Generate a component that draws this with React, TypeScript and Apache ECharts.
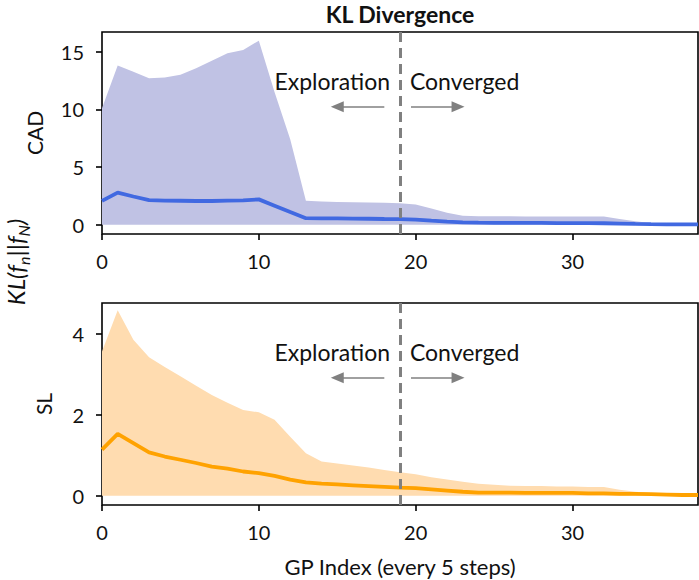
import React, { useEffect, useRef } from "react";
import * as echarts from "echarts";

const steps = Array.from({ length: 39 }, (_, i) => i);

const cadMean = [2.07, 2.79, 2.45, 2.13, 2.1, 2.08, 2.06, 2.06, 2.1, 2.12, 2.2, 1.65, 1.1, 0.57, 0.56, 0.55, 0.54, 0.52, 0.5, 0.49, 0.45, 0.35, 0.27, 0.2, 0.18, 0.17, 0.17, 0.16, 0.16, 0.15, 0.15, 0.14, 0.13, 0.1, 0.07, 0.05, 0.04, 0.03, 0.03];
const cadUpper = [10.1, 13.8, 13.25, 12.7, 12.76, 13.0, 13.56, 14.2, 14.86, 15.14, 15.95, 11.5, 7.4, 2.07, 2.02, 1.98, 1.95, 1.92, 1.9, 1.87, 1.75, 1.4, 1.05, 0.78, 0.74, 0.73, 0.73, 0.72, 0.72, 0.72, 0.72, 0.72, 0.72, 0.5, 0.3, 0.15, 0.12, 0.1, 0.1];

const slMean = [1.14, 1.53, 1.3, 1.07, 0.97, 0.89, 0.81, 0.72, 0.67, 0.6, 0.56, 0.49, 0.4, 0.33, 0.3, 0.28, 0.26, 0.24, 0.22, 0.2, 0.19, 0.16, 0.13, 0.1, 0.08, 0.08, 0.08, 0.07, 0.07, 0.07, 0.07, 0.06, 0.06, 0.05, 0.05, 0.04, 0.03, 0.02, 0.02];
const slUpper = [3.56, 4.58, 3.85, 3.42, 3.18, 2.95, 2.72, 2.49, 2.3, 2.12, 2.06, 1.88, 1.46, 1.05, 0.85, 0.8, 0.75, 0.7, 0.64, 0.58, 0.53, 0.46, 0.4, 0.35, 0.3, 0.27, 0.25, 0.24, 0.24, 0.23, 0.23, 0.22, 0.22, 0.15, 0.1, 0.07, 0.05, 0.04, 0.03];

const xTicks = [0, 10, 20, 30];
const cadTicks = [0, 5, 10, 15];
const slTicks = [0, 2, 4];
const switchStep = 19;

const FONT = "Lato";

function pairs(ys: number[]) {
  return steps.map((x, i) => [x, ys[i]]);
}

export default function App() {
  const ref = useRef<HTMLDivElement>(null);
  useEffect(() => {
    document.body.style.margin = "0";
    if (!ref.current) return;
    const chart = echarts.init(ref.current, null, { renderer: "svg" });
    const axisCommon = {
      axisLine: { show: false, onZero: false },
      axisTick: { show: true, inside: false, length: 6, lineStyle: { color: "#000", width: 1.6 } },
      splitLine: { show: false },
      axisLabel: { color: "#111", fontFamily: FONT, fontSize: 20 },
    };
    const xAxisFor = (gi: number, withName: boolean) => ({
      type: "value",
      gridIndex: gi,
      min: 0,
      max: 38,
      ...axisCommon,
      axisTick: { ...axisCommon.axisTick, customValues: xTicks },
      axisLabel: { ...axisCommon.axisLabel, margin: 17, customValues: xTicks },
      name: withName ? "GP Index (every 5 steps)" : "",
      nameLocation: "middle",
      nameGap: 50,
      nameTextStyle: { fontFamily: FONT, fontSize: 22, color: "#111" },
    });
    const yAxisFor = (gi: number, min: number, max: number, ticks: number[], name: string, gap: number) => ({
      type: "value",
      gridIndex: gi,
      min,
      max,
      ...axisCommon,
      axisTick: { ...axisCommon.axisTick, customValues: ticks },
      axisLabel: { ...axisCommon.axisLabel, margin: 18, customValues: ticks },
      name,
      nameLocation: "middle",
      nameRotate: 90,
      nameGap: gap,
      nameTextStyle: { fontFamily: FONT, fontSize: 21, color: "#111" },
    });

    const arrowLine = (y: number, from: number, to: number) => [
      { coord: [from, y], symbol: "none" },
      { coord: [to, y], symbol: "triangle", symbolSize: [11, 13] },
    ];
    const textPoint = (x: number, y: number, text: string, pos: string) => ({
      coord: [x, y],
      symbol: "rect",
      symbolSize: 1,
      itemStyle: { color: "rgba(0,0,0,0)" },
      label: {
        show: true,
        position: pos,
        distance: 0,
        formatter: text,
        fontFamily: FONT,
        fontSize: 23,
        color: "#111",
      },
    });

    const panel = (gi: number, mean: number[], upper: number[], lineColor: string, fillColor: string, ymin: number, ymax: number) => {
      const frac = (f: number) => ymin + f * (ymax - ymin);
      return [
        {
          type: "line",
          xAxisIndex: gi,
          yAxisIndex: gi,
          data: pairs(upper),
          symbol: "none",
          lineStyle: { width: 0, opacity: 0 },
          areaStyle: { color: fillColor, opacity: 1 },
          z: 1,
          silent: true,
        },
        {
          type: "line",
          xAxisIndex: gi,
          yAxisIndex: gi,
          data: pairs(mean),
          symbol: "none",
          lineStyle: { width: 3.8, color: lineColor },
          z: 2,
          markLine: {
            silent: true,
            animation: false,
            label: { show: false },
            lineStyle: { color: "#808080", width: 1.5, type: "solid" },
            data: [arrowLine(frac(0.63), 18.0, 15.0), arrowLine(frac(0.63), 19.7, 22.7)],
          },
          markPoint: {
            silent: true,
            animation: false,
            data: [textPoint(18.4, frac(0.755), "Exploration", "left"), textPoint(19.6, frac(0.755), "Converged", "right")],
          },
        },
        {
          type: "line",
          xAxisIndex: gi,
          yAxisIndex: gi,
          data: [],
          z: 3,
          markLine: {
            silent: true,
            animation: false,
            symbol: ["none", "none"],
            label: { show: false },
            lineStyle: { color: "#808080", width: 3, type: [10, 6] },
            data: [{ xAxis: switchStep }],
          },
        },
      ];
    };

    chart.setOption({
      animation: false,
      title: {
        text: "KL Divergence",
        left: 400,
        textAlign: "center",
        top: 2,
        padding: [0, 0, 0, 0],
        textStyle: { fontFamily: FONT, fontSize: 23, fontWeight: "bold", color: "#111" },
      },
      grid: [
        { left: 102, right: 1, top: 32, height: 202, show: true, borderColor: "#000", borderWidth: 1.6, backgroundColor: "rgba(0,0,0,0)" },
        { left: 102, right: 1, top: 303, height: 202, show: true, borderColor: "#000", borderWidth: 1.6, backgroundColor: "rgba(0,0,0,0)" },
      ],
      xAxis: [xAxisFor(0, false), xAxisFor(1, true)],
      yAxis: [
        yAxisFor(0, -0.8, 16.7, cadTicks, "CAD", 57),
        yAxisFor(1, -0.227, 4.76, slTicks, "SL", 48),
      ],
      graphic: [
        {
          type: "text",
          x: 13,
          y: 262,
          rotation: Math.PI / 2,
          style: {
            text: "{i|KL(f}{s|n}{i|||f}{s|N}{i|)}",
            align: "center",
            verticalAlign: "middle",
            fill: "#111",
            rich: {
              i: { fontFamily: FONT, fontStyle: "italic", fontSize: 24, fill: "#111", verticalAlign: "bottom", lineHeight: 28 },
              s: { fontFamily: FONT, fontStyle: "italic", fontSize: 16, fill: "#111", verticalAlign: "bottom", lineHeight: 20, padding: [0, 0, -4, 0] },
            },
          },
        },
      ],
      series: [
        ...panel(0, cadMean, cadUpper, "#4169e1", "#c0c2e4", -0.8, 16.7),
        ...panel(1, slMean, slUpper, "#ffa200", "#ffdcb0", -0.227, 4.76),
      ],
    });
    return () => chart.dispose();
  }, []);
  return <div ref={ref} style={{ width: 699, height: 580 }} />;
}
